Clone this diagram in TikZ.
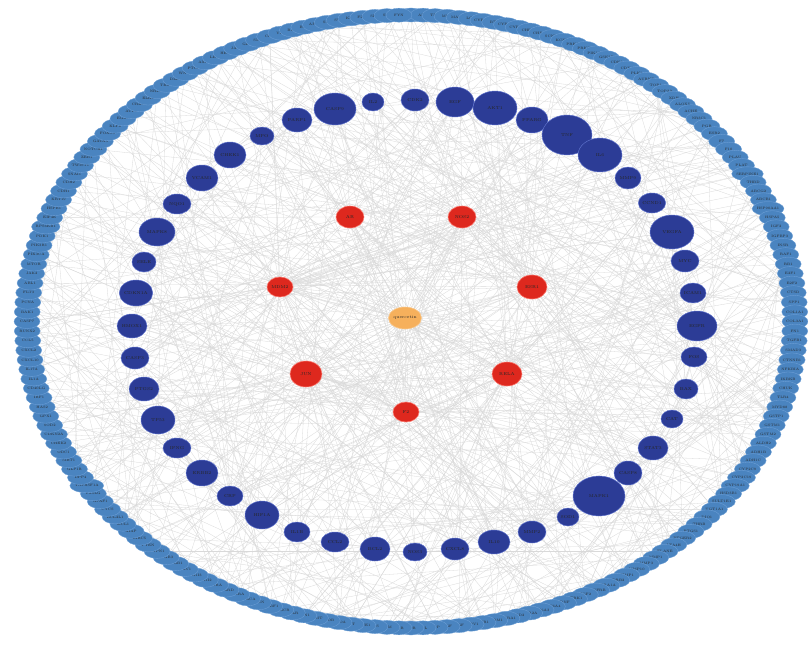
\documentclass[tikz,border=0pt]{standalone}
\usepackage{tikz}
\usetikzlibrary{shapes.geometric,backgrounds}

\definecolor{ringblue}{RGB}{74,132,192}
\definecolor{ringedge}{RGB}{110,160,215}
\definecolor{targetblue}{RGB}{44,60,150}
\definecolor{targetedge}{RGB}{95,115,205}
\definecolor{corered}{RGB}{222,40,30}
\definecolor{coreedge}{RGB}{250,120,110}
\definecolor{huborange}{RGB}{246,176,92}

\begin{document}
\begin{tikzpicture}[
    x=0.03cm, y=-0.03cm,
    every node/.style={font=\fontsize{3.6}{4}\selectfont, text=black!85},
    ringnode/.style={ellipse, fill=ringblue, draw=ringedge, line width=0.3pt, inner sep=0pt, minimum width=0.78cm, minimum height=0.42cm, font=\fontsize{2.9}{3.3}\selectfont},
    targetnode/.style={ellipse, fill=targetblue, draw=targetedge, line width=0.4pt, inner sep=0pt},
    corenode/.style={ellipse, fill=corered, draw=coreedge, line width=0.5pt, inner sep=0pt},
    hubnode/.style={ellipse, fill=huborange, draw=huborange!70, line width=0.5pt, inner sep=0pt, minimum width=0.84cm, minimum height=0.66cm},
    link/.style={draw=black!15, line width=0.25pt},
]

\useasboundingbox (0,0) rectangle (808,645);

% ---- Centre compound ----
\node[hubnode] (hub) at (405,318) {quercetin};

% ---- Core targets (red) ----
\foreach \x/\y/\w/\h/\lab [count=\i] in {
    350/217/28/22/AR, 462/217/28/22/NOS2, 280/287/26/20/MDM2, 532/287/30/24/ESR1,
    306/374/32/26/JUN, 507/374/30/24/RELA, 406/412/26/20/F2}
  \node[corenode, minimum width=\w*0.03cm, minimum height=\h*0.03cm] (r\i) at (\x,\y) {\lab};

% ---- Inner ring of targets (dark blue) ----
\foreach \x/\y/\w/\h/\lab [count=\i] in {
    415/100/28/22/CDK2, 455/102/38/30/EGF, 495/108/44/34/AKT1, 532/120/32/26/PPARG,
    567/135/50/40/TNF, 600/155/44/34/IL6, 628/178/26/22/MMP9, 652/203/26/20/CCND1,
    672/232/44/34/VEGFA, 685/261/28/22/MYC, 693/293/26/20/ICAM1, 697/326/40/30/EGFR,
    694/357/26/20/FOS, 686/389/24/20/BAX, 672/419/22/18/CAT, 653/448/30/24/STAT3,
    628/473/28/24/CASP8, 599/496/52/40/MAPK1, 568/517/22/18/SOD1, 532/532/28/22/MMP2,
    494/542/32/24/IL10, 455/549/28/22/CXCL8, 415/552/24/18/NOS3, 375/549/30/24/BCL2,
    335/542/28/20/CCL2, 297/532/26/20/IL1B, 262/515/34/28/HIF1A, 230/496/26/20/CRP,
    202/473/32/26/ERBB2, 177/448/28/20/IFNG, 158/420/34/28/TP53, 144/389/30/24/PTGS2,
    135/358/28/22/CASP3, 132/326/30/24/HMOX1, 136/293/32/26/CDKN1A, 144/262/24/20/SELE,
    157/232/36/28/MAPK8, 177/204/28/20/NQO1, 202/178/32/26/VCAM1, 230/155/32/26/CHEK1,
    262/136/24/18/MPO, 297/120/30/24/PARP1, 335/109/42/32/CASP9, 373/102/22/18/IL2}
  \node[targetnode, minimum width=\w*0.03cm, minimum height=\h*0.03cm] (n\i) at (\x,\y) {\lab};

% ---- Outer ring of targets (light blue) ----
\foreach \lab [count=\i] in {
    IL4, AHR, TPO, MET, MAPK3, LCK, CYP1A1, BTK, CYP1B1, CYP3A4,
    CHRM1, CHRM2, SCN5A, KCNH2, PRKCA, PRKCB, PIK3CG, GSK3B, CDK1, CDK4,
    PLK1, AURKB, TOP1, TOP2A, XDH, ALOX5, ACHE, NR3C1, PGR, ESR2,
    F7, F10, PLAU, PLAT, SERPINE1, THBD, ABCG2, ABCB1, HSP90AA1, HSPA5,
    IGF2, IGFBP3, INSR, RAF1, RB1, E2F1, E2F2, CTSD, SPP1, COL1A1,
    COL3A1, FN1, TGFB1, SMAD3, CTNNB1, NFKBIA, IKBKB, CHUK, TLR4, MYD88,
    GSTP1, GSTM1, GSTM2, ALDH2, ADH1B, ADH1C, CYP2C9, CYP2C19, CYP19A1, HSD3B1,
    SULT1E1, UGT1A1, DIO1, THRB, PTGS1, PTGER2, LTA4H, ELANE, MMP1, MMP3,
    MMP10, TIMP1, ADRB2, ADRA1A, PDGFRB, FGF2, NTRK1, BDNF, SLC6A4, SLC6A3,
    HTR2A, DRD2, GABRA1, OPRM1, CNR1, TRPV1, HGF, NGF, APP, LPL,
    VDR, POR, ATM, FAS, BACE1, KIT, MAOA, MAOB, COMT, PON1,
    LDLR, HMGCR, SREBF1, FASN, ACACA, PPARA, PPARD, RXRA, NR1I2, NR1I3,
    CAV1, ITGB1, ITGB3, PTPN1, PTEN, BIRC5, XIAP, MCL1, BCL2L1, CYCS,
    APAF1, FASLG, TNFRSF1A, DPP4, GLP1R, SIRT1, ODC1, CHEK2, CDKN2A, SOD2,
    GPX1, HAS2, IRF1, CD40LG, IL1A, IL17A, CXCL10, CXCL2, CCL5, RUNX2,
    CASP7, BAK1, PCNA, FLT3, ABL1, JAK2, MTOR, PIK3CA, PIK3R1, PDK1,
    RPS6KB1, EIF4E, HSPB1, KRT19, CDH1, CDH2, SNAI1, TWIST1, ZEB1, NOTCH1,
    GATA3, FOXO3, KLF4, EGR1, ATF2, CREB1, ELK1, NR4A1, TERT, DLL4,
    WNT1, PTCH1, AXIN2, LEF1, HES1, JAG1, GLI1, SMO, CLU, VIM,
    BAD, BID, APOB, SRC, SYK, KDR, FLT1, SHH, SP1, FYN}
{
  \pgfmathsetmacro\ang{90-(\i-1)*1.8}
  \node[ringnode] (o\i) at ({411+384*cos(\ang)},{321.5-306.5*sin(\ang)}) {\lab};
}

% ---- Interactions ----
\pgfmathsetseed{2024}
\begin{pgfonlayer}{background}
\fill[white] (0,0) rectangle (808,645);
\foreach \i in {1,...,200}{
  \pgfmathrandominteger{\a}{1}{44}
  \pgfmathrandominteger{\b}{1}{7}
  \pgfmathrandominteger{\c}{1}{200}
  \draw[link] (o\i) -- (n\a);
  \draw[link] (o\i) -- (r\b);
  \draw[link] (o\i) -- (o\c);
}
\foreach \i in {1,...,44}{
  \pgfmathrandominteger{\b}{1}{7}
  \pgfmathrandominteger{\c}{1}{44}
  \draw[link] (n\i) -- (hub);
  \draw[link] (n\i) -- (r\b);
  \draw[link] (n\i) -- (n\c);
}
\foreach \i in {1,...,7}
  \draw[link] (r\i) -- (hub);
\end{pgfonlayer}

\end{tikzpicture}
\end{document}
